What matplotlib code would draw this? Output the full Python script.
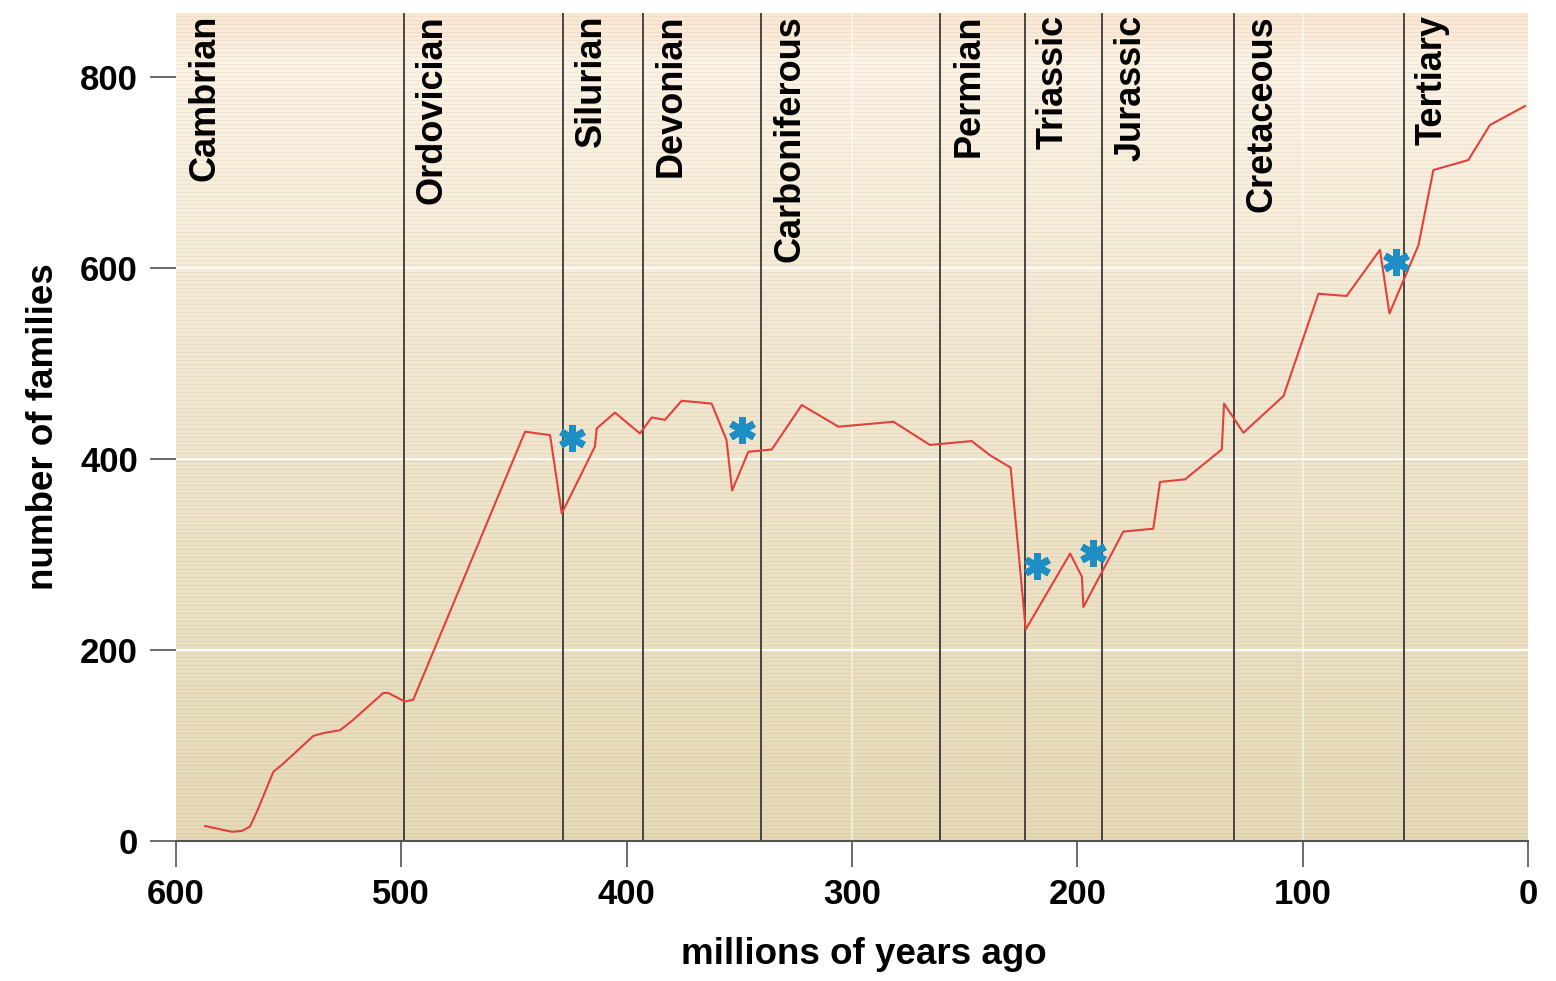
import numpy as np
import matplotlib as mpl
mpl.use('Agg')
import matplotlib.pyplot as plt

#
#--- number of families through time
#
ages     = [587.1, 575.3, 570.8, 567.2, 563.5, 556.8, 552.4, 539.1, 534.6, 527.2,
            521.3, 508.0, 505.8, 498.4, 494.7, 445.1, 434.0, 428.8, 414.1, 413.3,
            405.2, 394.1, 388.9, 383.0, 375.6, 362.3, 355.7, 353.2, 346.0, 340.8,
            335.6, 322.3, 306.0, 281.6, 265.4, 246.9, 238.8, 229.6, 222.9, 203.2,
            198.0, 197.3, 179.6, 166.3, 163.3, 152.2, 135.9, 134.9, 126.3, 108.5,
            93.0,  80.5,  65.7,  61.5,  48.6,  42.0,  26.5,  16.9,   1.3]
families = [15.7,   9.7,  10.5,  15.0,  34.0,  72.5,  81.0, 110.0, 113.0, 116.0,
            127.0, 155.0, 155.0, 146.0, 148.0, 428.6, 425.0, 343.0, 413.0, 432.0,
            448.6, 426.7, 443.5, 441.0, 461.0, 458.0, 420.0, 367.0, 407.6, 408.7,
            410.0, 456.5, 433.8, 439.0, 414.7, 418.8, 404.0, 391.0, 221.6, 301.0,
            276.8, 245.0, 324.0, 327.0, 376.0, 378.7, 410.0, 458.0, 427.5, 466.0,
            573.0, 570.7, 619.0, 552.4, 624.0, 702.6, 713.0, 749.7, 769.6]
#
#--- mass extinction markers
#
ext_age  = [424.3, 348.8, 217.9, 193.0, 58.6]
ext_fam  = [422.0, 430.0, 288.0, 302.0, 606.0]
#
#--- geologic periods: name and starting age
#
periods  = ['Cambrian', 'Ordovician', 'Silurian', 'Devonian', 'Carboniferous',
            'Permian', 'Triassic', 'Jurassic', 'Cretaceous', 'Tertiary']
p_start  = [600.0, 499.0, 428.3, 392.8, 340.4, 260.9, 223.2, 189.0, 130.5, 55.0]

x_ticks  = [600, 500, 400, 300, 200, 100, 0]
y_ticks  = [0, 200, 400, 600, 800]

#-------------------------------------------------------------------------------------
#--- make_background: striped beige gradient behind the data                       ---
#-------------------------------------------------------------------------------------

def make_background(nrow=828):
    """
    create a vertical gradient image with thin horizontal stripes
    input:  nrow    --- number of image rows
    output: img     --- (nrow, 1, 3) float array
    """
    pos  = [0.00, 0.03, 0.06, 0.35, 0.70, 1.00]
    cols = np.array([[250, 231, 210], [251, 235, 216], [252, 243, 229],
                     [244, 234, 212], [236, 225, 196], [229, 217, 183]]) / 255.0

    frac = np.linspace(0, 1, nrow)
    img  = np.zeros((nrow, 1, 3))
    for k in range(3):
        img[:, 0, k] = np.interp(frac, pos, cols[:, k])
#
#--- faint darker stripe every fourth row
#
    img[::4, 0, :] *= 0.955
    return img

#-------------------------------------------------------------------------------------
#--- plot_families: draw the diversity curve                                       ---
#-------------------------------------------------------------------------------------

def plot_families():
    """
    plot number of families against age with period boundaries
    output: out.png
    """
    plt.close('all')
    mpl.rcParams['font.family'] = ['Liberation Sans', 'DejaVu Sans']
    mpl.rcParams['font.weight'] = 'bold'

    fig = plt.figure(figsize=(15.56, 9.81), dpi=100)
    ax  = fig.add_axes([176/1556, 140/981, 1352/1556, 828/981])

    ymax = 867
#
#--- background
#
    ax.imshow(make_background(), extent=[600, 0, 0, ymax], aspect='auto',
              interpolation='nearest', zorder=0)
    for yv in [200, 400, 600]:
        ax.axhline(yv, color='white', lw=1.6, alpha=0.85, zorder=1)
    for xv in [300, 100]:
        ax.axvline(xv, color='white', lw=1.2, alpha=0.6, zorder=1)
#
#--- period boundaries and names
#
    for name, start in zip(periods, p_start):
        if start < 600:
            ax.axvline(start, color='#2b2b2b', lw=1.2, zorder=2)
        ax.text(start - 4.9, ymax - 2, name, rotation=90, ha='left', va='top',
                fontsize=26, fontweight='bold', color='black', zorder=5)
#
#--- data line and extinction markers
#
    ax.plot(ages, families, color='#e3403c', lw=1.5, zorder=3)
    ax.plot(ext_age, ext_fam, lw=0, marker=(6, 2, 0), markersize=19,
            markeredgewidth=5, color='#1d8fc4', zorder=4)
#
#--- axes
#
    ax.set_xlim(600, 0)
    ax.set_ylim(0, ymax)
    ax.set_xticks(x_ticks)
    ax.set_yticks(y_ticks)

    for side in ['left', 'right', 'top']:
        ax.spines[side].set_visible(False)
    ax.spines['bottom'].set_color('#555555')
    ax.spines['bottom'].set_linewidth(1.5)

    ax.tick_params(axis='both', direction='out', length=18.5, width=1.1,
                   color='#444444', labelsize=25)
    ax.tick_params(axis='x', pad=8)
    ax.tick_params(axis='y', pad=9)
    for label in ax.get_xticklabels() + ax.get_yticklabels():
        label.set_fontweight('bold')

    ax.set_xlabel('millions of years ago', fontsize=26.5, fontweight='bold')
    ax.set_ylabel('number of families', fontsize=26.5, fontweight='bold')
    ax.xaxis.set_label_coords(0.5085, -0.116)
    ax.yaxis.set_label_coords(-0.085, 0.5)

    plt.savefig('out.png', format='png', dpi=100)

#--------------------------------------------------------------------------------------

if __name__ == '__main__':

    plot_families()
